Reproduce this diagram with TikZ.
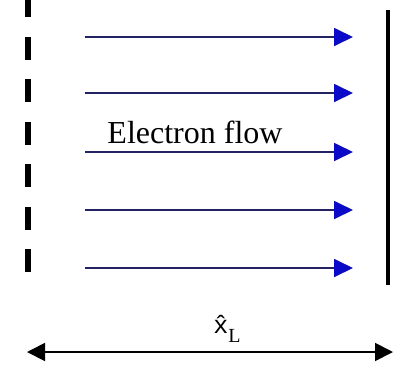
\documentclass[tikz,border=0pt]{standalone}
\usepackage{fontspec}
\setmainfont{Liberation Serif}
\newfontfamily\monofnt{Liberation Mono}
\usetikzlibrary{arrows.meta}
\definecolor{flowline}{RGB}{35,35,100}
\definecolor{flowhead}{RGB}{10,10,200}
\tikzset{
  flow/.style={draw=flowline, line width=1.8pt, -{Triangle[length=19pt,width=18pt,color=flowhead]}},
  dim/.style={draw=black, line width=1.8pt, {Triangle[length=18pt,width=18pt]}-{Triangle[length=18pt,width=18pt]}},
  lbl/.style={inner sep=0pt, font=\fontsize{32}{34}\selectfont}
}
\begin{document}
\begin{tikzpicture}[x=1pt,y=-1pt]
\useasboundingbox (0,0) rectangle (393,365);
% dashed left plate
\coordinate (dtop) at (28,-6);
\coordinate (dbot) at (28,273);
\draw[line width=6.5pt, dash pattern=on 23pt off 19.5pt] (dtop) -- (dbot);
% solid right plate
\coordinate (stop) at (388,10);
\coordinate (sbot) at (388,285);
\draw[line width=4.5pt] (stop) -- (sbot);
% flow arrows
\foreach \y [count=\i] in {37,93,152,210,268}{
  \coordinate (s\i) at (85,\y);
  \coordinate (e\i) at (353,\y);
  \draw[flow] (s\i) -- (e\i);
}
\node[lbl, anchor=base] (txt) at (195,143) {Electron flow};
% dimension arrow
\coordinate (l) at (27,352);
\coordinate (r) at (393,352);
\draw[dim] (l) -- (r);
\node[inner sep=0pt, anchor=base] (xl) at (227,333) {{\monofnt\fontsize{25}{27}\selectfont \^x}\raisebox{-9pt}{\fontsize{20}{22}\selectfont L}};
\end{tikzpicture}
\end{document}
